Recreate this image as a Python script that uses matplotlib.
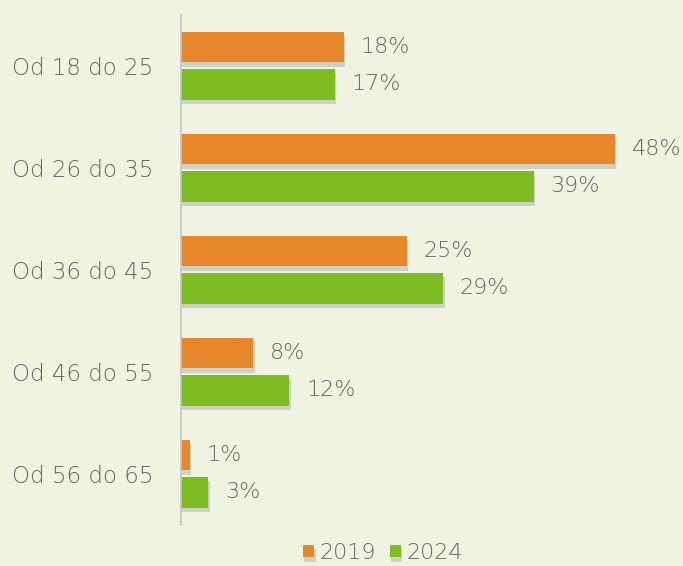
import numpy as np
from matplotlib import pyplot as plt
from matplotlib import patheffects as pe

categories = ['Od 18 do 25', 'Od 26 do 35', 'Od 36 do 45', 'Od 46 do 55', 'Od 56 do 65']
values_2019 = [18, 48, 25, 8, 1]
values_2024 = [17, 39, 29, 12, 3]

bg = '#EEF4E1'
orange = '#E8862C'
green = '#7DBD22'
text_color = '#666666'

plt.rcParams['font.family'] = ['DejaVu Sans']
plt.rcParams['font.weight'] = 'light'

fig = plt.figure(figsize=(6.83, 5.66), dpi=100, facecolor=bg)
ax = fig.add_axes([181 / 683, 1 - 525 / 566, 478 / 683, 510 / 566])
ax.set_facecolor(bg)

y = np.arange(len(categories))
shadow = [pe.SimplePatchShadow(offset=(1, -3), shadow_rgbFace='#555555', alpha=0.22), pe.Normal()]
b1 = ax.barh(y - 0.185, values_2019, height=0.3, color=orange, label='2019', path_effects=shadow)
b2 = ax.barh(y + 0.18, values_2024, height=0.3, color=green, label='2024', path_effects=shadow)

for bars, vals in ((b1, values_2019), (b2, values_2024)):
    for bar, v in zip(bars, vals):
        ax.text(v + 1.85, bar.get_y() + bar.get_height() / 2, f'{v}%',
                va='center', ha='left', fontsize=16, color=text_color)

ax.set_xlim(0, 478 / 9.04)
ax.set_ylim(len(categories) - 0.5, -0.5)
ax.set_yticks(y)
ax.set_yticklabels(categories, fontsize=16.5, color=text_color)
ax.tick_params(axis='y', length=0, pad=20)
ax.set_xticks([])
for s in ['top', 'right', 'bottom']:
    ax.spines[s].set_visible(False)
ax.spines['left'].set_color('#c4c4c4')
ax.spines['left'].set_linewidth(1.2)

fig.legend(handles=[b1, b2], labels=['2019', '2024'], loc='center', bbox_to_anchor=(383 / 683, 1 - 553 / 566),
           ncol=2, frameon=False, fontsize=16, labelcolor=text_color,
           handlelength=0.5, handleheight=0.5, handletextpad=0.25, columnspacing=0.6)

fig.savefig('out.png', dpi=100, facecolor=bg)
